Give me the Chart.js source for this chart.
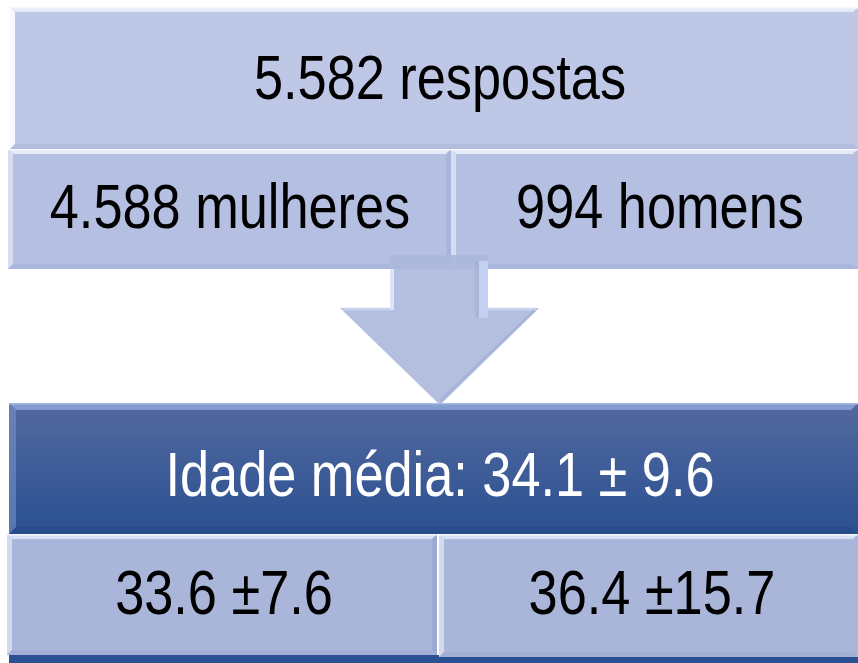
<!DOCTYPE html>
<html>
<head>
<meta charset="utf-8">
<script src="https://cdn.jsdelivr.net/npm/chart.js@4.4.1/dist/chart.umd.min.js"></script>
<style>
html,body{margin:0;padding:0;background:#fff;}
#wrap{width:858px;height:663px;}
</style>
</head>
<body>
<div id="wrap"><canvas id="c" width="858" height="663"></canvas></div>
<script>
// ---- data ----
const totalLabel = ['5.582 respostas'];
const totalValue = [5582];
const groupCountLabels = ['4.588 mulheres', '994 homens'];
const groupCounts = [4588, 994];
const meanAgeLabel = ['Idade média: 34.1 ± 9.6'];
const meanAge = [34.1];
const meanAgeSD = [9.6];
const groupAgeLabels = ['33.6 ±7.6', '36.4 ±15.7'];
const groupAgeMeans = [33.6, 36.4];
const groupAgeSD = [7.6, 15.7];

// ---- layout (page units, mapped through the chart's scales) ----
const L = {
  top:   {x0:10, x1:858, y0:7,   y1:149},
  cnt:   [{x0:8, x1:451, y0:149, y1:269}, {x0:451, x1:858, y0:149, y1:269}],
  arrow: {sx0:390, sx1:488, sy0:255, hy:308, hx0:340, hx1:539, tipX:440, tipY:405},
  mean:  {x0:9,  x1:858, y0:403, y1:534},
  age:   [{x0:7, x1:437, y0:534, y1:655}, {x0:439, x1:858, y0:534, y1:657}],
  strip: {x0:9, x1:858, y0:655, y1:663},
  txt: {
    top:  {x:440, y:99},
    cnt:  [{x:230, y:228}, {x:660, y:228}],
    mean: {x:440, y:496},
    age:  [{x:224, y:614}, {x:652, y:614}]
  }
};
const FONT = '63px "Liberation Sans", Arial, sans-serif';
const SX = 0.83;

function bevelBox(ctx, xs, ys, r, base, opts) {
  const x0 = xs.getPixelForValue(r.x0), x1 = xs.getPixelForValue(r.x1);
  const y0 = ys.getPixelForValue(r.y0), y1 = ys.getPixelForValue(r.y1);
  const b = opts.bevel || 5;
  if (opts.grad) {
    const g = ctx.createLinearGradient(0, y0, 0, y1);
    g.addColorStop(0, opts.grad[0]);
    g.addColorStop(1, opts.grad[1]);
    ctx.fillStyle = g;
  } else ctx.fillStyle = base;
  ctx.fillRect(x0, y0, x1 - x0, y1 - y0);
  ctx.fillStyle = opts.hiTop;
  ctx.beginPath();
  ctx.moveTo(x0, y0); ctx.lineTo(x1, y0); ctx.lineTo(x1 - b, y0 + b); ctx.lineTo(x0 + b, y0 + b); ctx.closePath(); ctx.fill();
  ctx.fillStyle = opts.hiLeft;
  ctx.beginPath();
  ctx.moveTo(x0, y0); ctx.lineTo(x0 + b, y0 + b); ctx.lineTo(x0 + b, y1 - b); ctx.lineTo(x0, y1); ctx.closePath(); ctx.fill();
  if (r.x1 < 858) {
    ctx.fillStyle = opts.loRight;
    ctx.beginPath();
    ctx.moveTo(x1, y0); ctx.lineTo(x1, y1); ctx.lineTo(x1 - b, y1 - b); ctx.lineTo(x1 - b, y0 + b); ctx.closePath(); ctx.fill();
  }
  ctx.fillStyle = opts.loBottom;
  ctx.beginPath();
  ctx.moveTo(x0, y1); ctx.lineTo(x0 + b, y1 - b); ctx.lineTo(x1 - b, y1 - b); ctx.lineTo(x1, y1); ctx.closePath(); ctx.fill();
  ctx.fillStyle = opts.edge;
  ctx.fillRect(x0, y0, x1 - x0, 1.5);
}

function drawText(ctx, xs, ys, text, p, color) {
  ctx.save();
  ctx.translate(xs.getPixelForValue(p.x), ys.getPixelForValue(p.y));
  ctx.scale(SX, 1);
  ctx.font = FONT;
  ctx.fillStyle = color;
  ctx.textAlign = 'center';
  ctx.textBaseline = 'alphabetic';
  ctx.fillText(text, 0, 0);
  ctx.restore();
}

const diagram = {
  id: 'diagram',
  beforeDatasetsDraw(chart) {
    const ctx = chart.ctx, xs = chart.scales.x, ys = chart.scales.y;
    ctx.save();
    const light = {hiTop:'rgba(235,240,252,0.85)', hiLeft:'rgba(228,234,250,0.7)', loRight:'rgba(150,163,205,0.35)', loBottom:'rgba(150,163,205,0.3)', edge:'rgba(245,248,255,0.9)', bevel:5};
    bevelBox(ctx, xs, ys, L.top, '#bec8e6', Object.assign({}, light, {hiLeft:'rgba(250,252,255,0.95)'}));
    L.cnt.forEach(r => bevelBox(ctx, xs, ys, r, '#b4bfe1', light));
    // arrow
    const A = L.arrow, px = v => xs.getPixelForValue(v), py = v => ys.getPixelForValue(v);
    ctx.globalAlpha = 0.9;
    ctx.fillStyle = '#acb8dc';
    ctx.beginPath();
    ctx.moveTo(px(A.sx0), py(A.sy0)); ctx.lineTo(px(A.sx1), py(A.sy0));
    ctx.lineTo(px(A.sx1), py(A.hy)); ctx.lineTo(px(A.hx1), py(A.hy));
    ctx.lineTo(px(A.tipX), py(A.tipY)); ctx.lineTo(px(A.hx0), py(A.hy));
    ctx.lineTo(px(A.sx0), py(A.hy)); ctx.closePath(); ctx.fill();
    ctx.globalAlpha = 1;
    ctx.fillStyle = 'rgba(235,240,252,0.75)';
    ctx.fillRect(px(A.sx0), py(269), 4, py(A.hy) - py(269) + 2);
    ctx.fillStyle = 'rgba(200,212,245,0.85)';
    ctx.fillRect(px(A.sx1) - 9, py(A.sy0) + 6, 9, py(A.hy) - py(A.sy0) + 4);
    ctx.fillStyle = 'rgba(150,165,210,0.35)';
    ctx.fillRect(px(A.sx1) - 13, py(A.sy0) + 6, 4, py(A.hy) - py(A.sy0) + 4);
    ctx.strokeStyle = 'rgba(215,224,248,0.6)';
    ctx.lineWidth = 3;
    ctx.beginPath();
    ctx.moveTo(px(A.hx0) + 3, py(A.hy) + 1); ctx.lineTo(px(A.sx0), py(A.hy) + 1);
    ctx.moveTo(px(A.hx1) - 3, py(A.hy) + 1); ctx.lineTo(px(A.sx1), py(A.hy) + 1);
    ctx.stroke();
    ctx.strokeStyle = 'rgba(150,165,210,0.45)';
    ctx.beginPath();
    ctx.moveTo(px(A.hx1) - 4, py(A.hy) + 2); ctx.lineTo(px(A.tipX), py(A.tipY) - 4);
    ctx.stroke();
    // dark strip under bottom row
    ctx.fillStyle = '#2c5192';
    const S = L.strip;
    ctx.fillRect(px(S.x0), py(S.y0), px(S.x1) - px(S.x0), py(S.y1) - py(S.y0));
    bevelBox(ctx, xs, ys, L.mean, null, {grad:['#52699f', '#2b5091'], hiTop:'rgba(150,175,225,0.75)', hiLeft:'rgba(120,145,200,0.6)', loRight:'rgba(30,55,110,0.3)', loBottom:'rgba(30,55,110,0.2)', edge:'rgba(170,190,230,0.9)', bevel:7});
    L.age.forEach(r => bevelBox(ctx, xs, ys, r, '#a9b5d9', Object.assign({}, light, {hiTop:'rgba(225,232,250,0.85)', loRight:'rgba(140,155,200,0.45)'})));
    drawText(ctx, xs, ys, totalLabel[0], L.txt.top, '#000');
    groupCountLabels.forEach((t, i) => drawText(ctx, xs, ys, t, L.txt.cnt[i], '#000'));
    drawText(ctx, xs, ys, meanAgeLabel[0], L.txt.mean, '#fff');
    groupAgeLabels.forEach((t, i) => drawText(ctx, xs, ys, t, L.txt.age[i], '#000'));
    ctx.restore();
  }
};

new Chart(document.getElementById('c'), {
  type: 'scatter',
  data: { datasets: [{ data: [], pointRadius: 0 }] },
  options: {
    responsive: false,
    animation: false,
    layout: { padding: 0 },
    plugins: { legend: { display: false }, tooltip: { enabled: false } },
    scales: {
      x: { type: 'linear', min: 0, max: 858, display: false },
      y: { type: 'linear', min: 0, max: 663, reverse: true, display: false }
    }
  },
  plugins: [diagram]
});
</script>
</body>
</html>
